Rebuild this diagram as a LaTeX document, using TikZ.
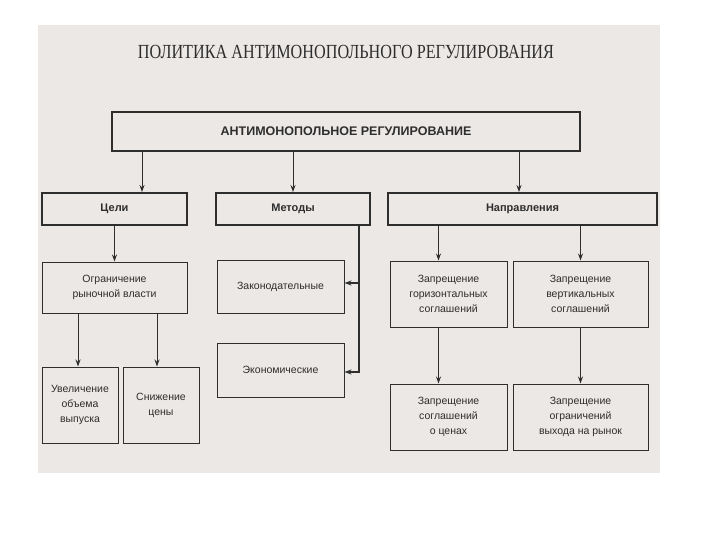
\documentclass[tikz,border=0pt]{standalone}
\usepackage{fontspec}
\setmainfont{Liberation Sans}
\newfontfamily\titlefont[FakeStretch=0.81]{Liberation Serif}
\usetikzlibrary{arrows.meta}

\definecolor{page}{HTML}{ECE8E6}
\definecolor{ink}{HTML}{2E2E2E}

\tikzset{
  headbox/.style={draw=ink, line width=2pt, inner sep=0pt, align=center,
    text=ink, font=\bfseries\fontsize{11}{13}\selectfont},
  itembox/.style={draw=ink, line width=1pt, inner sep=0pt, align=center,
    text=ink, font=\fontsize{10.5}{15}\selectfont},
  arr/.style={-{Stealth[length=7pt,width=5pt]}, line width=1pt, draw=ink},
}

\begin{document}
\begin{tikzpicture}[x=1pt, y=-1pt]

% Page
\useasboundingbox (0,0) rectangle (720,540);
\fill[white] (0,0) rectangle (720,540);
\fill[page] (38,25) rectangle (660,473);

% Title
\node[text=ink, font=\titlefont\fontsize{20}{22}\selectfont] (title) at (346,52)
    {ПОЛИТИКА АНТИМОНОПОЛЬНОГО РЕГУЛИРОВАНИЯ};

% Main box
\node[headbox, minimum width=468pt, minimum height=39pt,
      font=\bfseries\fontsize{12.5}{14}\selectfont] (main) at (346,131.5)
    {АНТИМОНОПОЛЬНОЕ РЕГУЛИРОВАНИЕ};

% Second row
\node[headbox, minimum width=145pt, minimum height=32pt] (goals) at (114.5,209) {Цели};
\node[headbox, minimum width=154pt, minimum height=32pt] (methods) at (293,209) {Методы};
\node[headbox, minimum width=269pt, minimum height=32pt] (dirs) at (522.5,209) {Направления};

% Goals
\node[itembox, minimum width=145pt, minimum height=51pt] (limit) at (114.5,287.5)
    {Ограничение\\рыночной власти};
\node[itembox, minimum width=76pt, minimum height=76pt] (output) at (80,405)
    {Увеличение\\объема\\выпуска};
\node[itembox, minimum width=76pt, minimum height=76pt] (price) at (161,405)
    {Снижение\\цены};

% Methods
\node[itembox, minimum width=127pt, minimum height=53pt] (law) at (280.5,286.5)
    {Законодательные};
\node[itembox, minimum width=127pt, minimum height=54pt] (econ) at (280.5,370)
    {Экономические};
\coordinate (mdrop) at (359,0);

% Directions
\node[itembox, minimum width=117pt, minimum height=66pt] (horiz) at (448.5,294)
    {Запрещение\\горизонтальных\\соглашений};
\node[itembox, minimum width=135pt, minimum height=66pt] (vert) at (580.5,294)
    {Запрещение\\вертикальных\\соглашений};
\node[itembox, minimum width=117pt, minimum height=66pt] (prices) at (448.5,417)
    {Запрещение\\соглашений\\о ценах};
\node[itembox, minimum width=135pt, minimum height=66pt] (entry) at (580.5,417)
    {Запрещение\\ограничений\\выхода на рынок};

% Connectors
\draw[arr] ([xshift=27.5pt]goals.north |- main.south) -- ([xshift=27.5pt]goals.north);
\draw[arr] (methods.north |- main.south) -- (methods.north);
\draw[arr] ([xshift=-3.5pt]dirs.north |- main.south) -- ([xshift=-3.5pt]dirs.north);

\draw[arr] (goals) -- (limit);
\draw[arr] ([xshift=-2pt]output.north |- limit.south) -- ([xshift=-2pt]output.north);
\draw[arr] ([xshift=-4pt]price.north |- limit.south) -- ([xshift=-4pt]price.north);

\draw[arr, line width=1.6pt] (methods.south -| mdrop) |- ([yshift=-2pt]econ.east);
\draw[arr, line width=1.6pt] ([yshift=3.5pt]law.east -| mdrop) -- ([yshift=3.5pt]law.east);

\draw[arr] ([xshift=-10pt]horiz.north |- dirs.south) -- ([xshift=-10pt]horiz.north);
\draw[arr] (vert.north |- dirs.south) -- (vert.north);
\draw[arr] ([xshift=-10pt]horiz.south) -- ([xshift=-10pt]prices.north);
\draw[arr] (vert) -- (entry);

\end{tikzpicture}
\end{document}
